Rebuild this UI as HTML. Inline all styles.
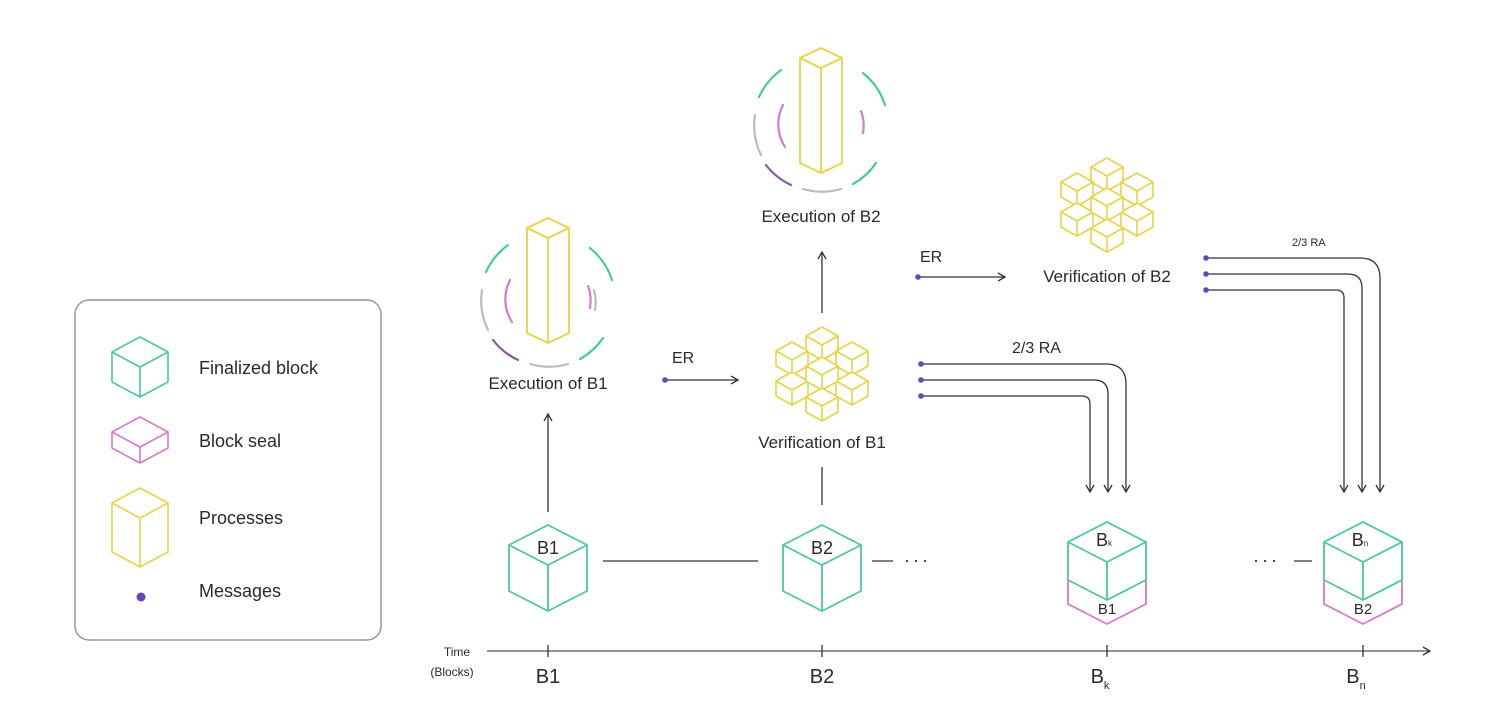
<!DOCTYPE html>
<html><head><meta charset="utf-8"><style>
html,body{margin:0;padding:0;background:#fff}
svg{display:block}
text{font-family:"Liberation Sans",sans-serif;fill:#2a2a2a}
</style></head><body>
<svg width="1500" height="702" viewBox="0 0 1500 702" xmlns="http://www.w3.org/2000/svg">
<defs>
<marker id="ah" markerWidth="10" markerHeight="10" refX="8" refY="5" orient="auto" markerUnits="userSpaceOnUse">
<path d="M1,1 L8,5 L1,9" fill="none" stroke="#333" stroke-width="1.3"/></marker>
</defs>

<!-- legend -->
<rect x="75" y="300" width="306" height="340" rx="14" fill="#fff" stroke="#999" stroke-width="1.5"/>
<g fill="none" stroke-width="1.6" stroke-linejoin="round">
<path stroke="#4cc79e" d="M140,337 L168,352 L168,382 L140,397 L112,382 L112,352 Z M112,352 L140,367 L168,352 M140,367 V397"/>
<path stroke="#d37ccb" d="M140,417 L168,432 L168,448 L140,463 L112,448 L112,432 Z M112,432 L140,447 L168,432 M140,447 V463"/>
<path stroke="#e9d24a" d="M140,488 L168,503 L168,552 L140,567 L112,552 L112,503 Z M112,503 L140,518 L168,503 M140,518 V567"/>
</g>
<circle cx="141" cy="597" r="4.5" fill="#6b46b5"/>
<text x="199" y="374" font-size="18">Finalized block</text>
<text x="199" y="447" font-size="18">Block seal</text>
<text x="199" y="524" font-size="18">Processes</text>
<text x="199" y="597" font-size="18">Messages</text>

<!-- connectors -->
<g stroke="#333" stroke-width="1.3" fill="none">
<line x1="548" y1="512" x2="548" y2="414" marker-end="url(#ah)"/>
<line x1="822" y1="505" x2="822" y2="467"/>
<line x1="822" y1="313" x2="822" y2="252" marker-end="url(#ah)"/>
<line x1="665" y1="380" x2="738" y2="380" marker-end="url(#ah)"/>
<line x1="918" y1="277" x2="1005" y2="277" marker-end="url(#ah)"/>
<line x1="603" y1="561" x2="758" y2="561"/>
<line x1="872" y1="561" x2="893" y2="561"/>
<line x1="1294" y1="561" x2="1312" y2="561"/>
<path d="M921,364 H1106 Q1126,364 1126,384 V492" marker-end="url(#ah)"/>
<path d="M921,380 H1094 Q1108,380 1108,394 V492" marker-end="url(#ah)"/>
<path d="M921,396 H1082 Q1090,396 1090,404 V492" marker-end="url(#ah)"/>
<path d="M1206,258 H1360 Q1380,258 1380,278 V492" marker-end="url(#ah)"/>
<path d="M1206,274 H1348 Q1362,274 1362,288 V492" marker-end="url(#ah)"/>
<path d="M1206,290 H1336 Q1344,290 1344,298 V492" marker-end="url(#ah)"/>
<line x1="487" y1="651" x2="1430" y2="651" stroke="#555" marker-end="url(#ah)"/>
<line x1="548" y1="645" x2="548" y2="657"/>
<line x1="822" y1="645" x2="822" y2="657"/>
<line x1="1107" y1="645" x2="1107" y2="657"/>
<line x1="1363" y1="645" x2="1363" y2="657"/>
</g>
<g fill="#6b46b5">
<circle cx="665" cy="380" r="2.8"/><circle cx="918" cy="277" r="2.8"/>
<circle cx="921" cy="364" r="2.8"/><circle cx="921" cy="380" r="2.8"/><circle cx="921" cy="396" r="2.8"/>
<circle cx="1206" cy="258" r="2.8"/><circle cx="1206" cy="274" r="2.8"/><circle cx="1206" cy="290" r="2.8"/>
</g>
<text x="904" y="566" font-size="18" letter-spacing="3">···</text>
<text x="1253" y="566" font-size="18" letter-spacing="3">···</text>

<!-- bottom cubes -->
<g fill="none" stroke="#4cc79e" stroke-width="1.8" stroke-linejoin="round">
<path d="M548,525 L587,545 L587,591 L548,611 L509,591 L509,545 Z M509,545 L548,565 L587,545 M548,565 V611"/>
<path d="M822,525 L861,545 L861,591 L822,611 L783,591 L783,545 Z M783,545 L822,565 L861,545 M822,565 V611"/>
<path d="M1107,522 L1146,542 L1146,580 L1107,600 L1068,580 L1068,542 Z M1068,542 L1107,562 L1146,542 M1107,562 V600"/>
<path d="M1363,522 L1402,542 L1402,580 L1363,600 L1324,580 L1324,542 Z M1324,542 L1363,562 L1402,542 M1363,562 V600"/>
</g>
<g fill="none" stroke="#d37ccb" stroke-width="1.8" stroke-linejoin="round">
<path d="M1068,580 V604 L1107,624 L1146,604 V580"/>
<path d="M1324,580 V604 L1363,624 L1402,604 V580"/>
</g>
<text x="548" y="554" font-size="18" text-anchor="middle">B1</text>
<text x="822" y="554" font-size="18" text-anchor="middle">B2</text>
<text x="1104" y="546" font-size="18" text-anchor="middle">B<tspan font-size="8">k</tspan></text>
<text x="1360" y="546" font-size="18" text-anchor="middle">B<tspan font-size="8">n</tspan></text>
<text x="1107" y="614" font-size="15" text-anchor="middle">B1</text>
<text x="1363" y="614" font-size="15" text-anchor="middle">B2</text>

<!-- pillars -->
<g fill="none" stroke="#e9d24a" stroke-width="1.8" stroke-linejoin="round">
<path d="M548,218 L569,228 L569,333 L548,343 L527,333 L527,228 Z M527,228 L548,238 L569,228 M548,238 V343"/>
<path d="M821,48 L842,58 L842,163 L821,173 L800,163 L800,58 Z M800,58 L821,68 L842,58 M821,68 V173"/>
</g>
<g fill="none" stroke-width="2.2" stroke-linecap="round">
<g transform="translate(548,300)">
<path d="M-40,-55 A68,68 0 0 0 -62,-28" stroke="#4cc79e"/>
<path d="M-66,-10 A68,68 0 0 0 -60,30" stroke="#bbb"/>
<path d="M-55,40 A68,68 0 0 0 -30,60" stroke="#8a5a9a"/>
<path d="M-18,64 A68,68 0 0 0 20,64" stroke="#bbb"/>
<path d="M32,59 A68,68 0 0 0 55,38" stroke="#4cc79e"/>
<path d="M42,-52 A68,68 0 0 1 64,-20" stroke="#4cc79e"/>
<path d="M-38,-20 A42,42 0 0 0 -36,22" stroke="#d37ccb"/>
<path d="M40,-14 A42,42 0 0 1 42,8" stroke="#d37ccb"/>
<path d="M46,-10 A46,46 0 0 1 47,10" stroke="#bbb"/>
</g>
<g transform="translate(821,125)">
<path d="M-40,-55 A68,68 0 0 0 -62,-28" stroke="#4cc79e"/>
<path d="M-66,-10 A68,68 0 0 0 -60,30" stroke="#bbb"/>
<path d="M-55,40 A68,68 0 0 0 -30,60" stroke="#8a5a9a"/>
<path d="M-18,64 A68,68 0 0 0 20,64" stroke="#bbb"/>
<path d="M32,59 A68,68 0 0 0 55,38" stroke="#4cc79e"/>
<path d="M42,-52 A68,68 0 0 1 64,-20" stroke="#4cc79e"/>
<path d="M-38,-20 A42,42 0 0 0 -36,22" stroke="#d37ccb"/>
<path d="M40,-14 A42,42 0 0 1 42,8" stroke="#d37ccb"/>
</g>
</g>

<!-- clusters -->
<g fill="#fff" stroke="#e9d24a" stroke-width="1.6" stroke-linejoin="round">
<g id="cl">
<path d="M822,327 l16,9 v15 l-16,9 l-16,-9 v-15 Z M806,336 l16,9 l16,-9 M822,345 v15"/>
<path d="M792,342 l16,9 v15 l-16,9 l-16,-9 v-15 Z M776,351 l16,9 l16,-9 M792,360 v15"/>
<path d="M852,342 l16,9 v15 l-16,9 l-16,-9 v-15 Z M836,351 l16,9 l16,-9 M852,360 v15"/>
<path d="M792,372 l16,9 v15 l-16,9 l-16,-9 v-15 Z M776,381 l16,9 l16,-9 M792,390 v15"/>
<path d="M852,372 l16,9 v15 l-16,9 l-16,-9 v-15 Z M836,381 l16,9 l16,-9 M852,390 v15"/>
<path d="M822,357 l16,9 v15 l-16,9 l-16,-9 v-15 Z M806,366 l16,9 l16,-9 M822,375 v15"/>
<path d="M822,388 l16,9 v15 l-16,9 l-16,-9 v-15 Z M806,397 l16,9 l16,-9 M822,406 v15"/>
</g>
<use href="#cl" transform="translate(285,-169)"/>
</g>

<!-- labels -->
<text x="548" y="389" font-size="17" text-anchor="middle">Execution of B1</text>
<text x="821" y="222" font-size="17" text-anchor="middle">Execution of B2</text>
<text x="822" y="448" font-size="17" text-anchor="middle">Verification of B1</text>
<text x="1107" y="282" font-size="17" text-anchor="middle">Verification of B2</text>
<text x="672" y="363" font-size="16">ER</text>
<text x="920" y="262" font-size="16">ER</text>
<text x="1012" y="353" font-size="16">2/3 RA</text>
<text x="1292" y="246" font-size="11">2/3 RA</text>
<text x="457" y="656" font-size="12" text-anchor="middle">Time</text>
<text x="452" y="676" font-size="12" text-anchor="middle">(Blocks)</text>
<text x="548" y="683" font-size="20" text-anchor="middle">B1</text>
<text x="822" y="683" font-size="20" text-anchor="middle">B2</text>
<text x="1100" y="683" font-size="20" text-anchor="middle">B<tspan font-size="11" dy="6">k</tspan></text>
<text x="1356" y="683" font-size="20" text-anchor="middle">B<tspan font-size="11" dy="6">n</tspan></text>
</svg>
</body></html>
